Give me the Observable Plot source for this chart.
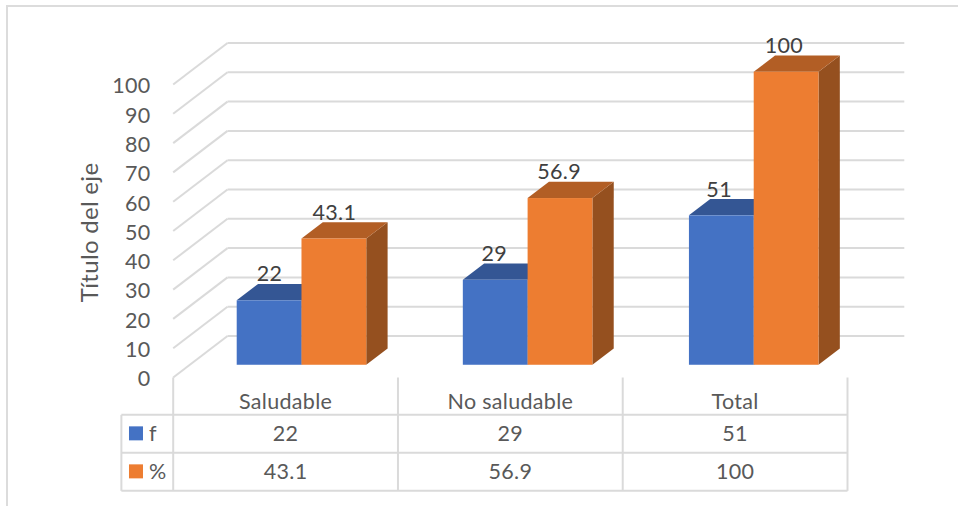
<!DOCTYPE html>
<html lang="es">
<head>
<meta charset="utf-8">
<title>Título del eje</title>
<script src="https://cdn.jsdelivr.net/npm/d3@7"></script>
<script src="https://cdn.jsdelivr.net/npm/@observablehq/plot@0.6"></script>
<style>
  html, body { margin: 0; padding: 0; background: #fff; overflow: hidden; }
  #chart { position: relative; width: 958px; height: 506px; }
  #frame { position: absolute; left: 6px; top: 5px; right: 0; bottom: 0;
           border-left: 2px solid #dcdcdc; border-top: 2px solid #dcdcdc; }
  #chart svg { position: absolute; left: 0; top: 0; }
</style>
</head>
<body>
<div id="chart"><div id="frame"></div></div>
<script>
// Chart values
const categories = ["Saludable", "No saludable", "Total"];
const frecuencia = [22, 29, 51];
const porcentaje = [43.1, 56.9, 100];
const valueTicks = [0, 10, 20, 30, 40, 50, 60, 70, 80, 90, 100];

// Faces of each series: front, top, right side
const series = [
  { key: "f", label: "f", values: frecuencia, front: "#4472C4", top: "#345694", side: "#2C4A80" },
  { key: "%", label: "%", values: porcentaje, front: "#ED7D31", top: "#B25E25", side: "#95501F" }
];

// Oblique projection: depth 0 is the front of the floor, depth 1 the back wall
const depthX = 0.2416;
const depthY = 14.16;
const px = (x, depth) => x + depth * depthX;
const py = (y, depth) => y + depth * depthY;
const barFront = 0.295, barBack = 0.688;
const groupStart = 0.2135, groupStep = 1.006, labelStep = 1, barWidth = 0.2882;
const wallRight = 3.2527 - depthX;

// Bars, with the x extent of each one on the category axis
const bars = series.flatMap((s, si) => s.values.map((v, i) => {
  const x0 = groupStart + i * groupStep + si * barWidth;
  const labelX = groupStart + i * labelStep + (si + 0.5) * barWidth;
  return { series: s, category: categories[i], value: v, x0, x1: x0 + barWidth, labelX };
}));

// A four-sided face given as two edges, one per row, for Plot.area
const quad = (id, a, b, c, d) => [
  { id, x1: a[0], y1: a[1], x2: b[0], y2: b[1] },
  { id, x1: d[0], y1: d[1], x2: c[0], y2: c[1] }
];
const facesOf = s => bars.filter(b => b.series === s);
const topFace = b => quad(b.category,
  [px(b.x0, barFront), py(b.value, barFront)], [px(b.x1, barFront), py(b.value, barFront)],
  [px(b.x1, barBack), py(b.value, barBack)], [px(b.x0, barBack), py(b.value, barBack)]);
const sideFace = b => quad(b.category,
  [px(b.x1, barFront), py(0, barFront)], [px(b.x1, barFront), py(b.value, barFront)],
  [px(b.x1, barBack), py(b.value, barBack)], [px(b.x1, barBack), py(0, barBack)]);

// Data table under the plot, measured in axis units
const tableTop = -12.75, rowH = 12.97;
const tableLeft = -0.2306;
const rowY = r => tableTop - rowH * r;
const rowMid = r => tableTop - rowH * (r + 0.5);
const headerY = -8.3;

const text = { fontSize: 21.5, fill: "#595959" };
const gridLine = { stroke: "#DADADA", strokeWidth: 2 };
const bar3d = s => [
  Plot.area(facesOf(s).flatMap(sideFace), { x1: "x1", y1: "y1", x2: "x2", y2: "y2", z: "id", fill: s.side }),
  Plot.area(facesOf(s).flatMap(topFace), { x1: "x1", y1: "y1", x2: "x2", y2: "y2", z: "id", fill: s.top }),
  Plot.rect(facesOf(s), {
    x1: b => px(b.x0, barFront), x2: b => px(b.x1, barFront),
    y1: () => py(0, barFront), y2: b => py(b.value, barFront),
    fill: s.front, inset: 0
  })
];

const chart = Plot.plot({
  width: 958, height: 506,
  marginTop: 0, marginRight: 0, marginBottom: 0, marginLeft: 0,
  style: { fontFamily: "Lato, sans-serif", background: "transparent", overflow: "visible", letterSpacing: "0.3px" },
  x: { domain: [0, 3], range: [172.7, 847], axis: null },
  y: { domain: [0, 100], range: [377, 84], axis: null },
  marks: [
    // Gridlines: along the side wall, then across the back wall
    Plot.link(valueTicks, { x1: 0, y1: d => d, x2: px(0, 1), y2: d => py(d, 1), ...gridLine }),
    Plot.link(valueTicks, {
      x1: px(0, 1), y1: d => py(d, 1), x2: px(wallRight, 1), y2: d => py(d, 1), ...gridLine
    }),

    // Value axis
    Plot.text(valueTicks, { x: -0.101, y: d => d, text: d => String(d), textAnchor: "end", dy: 2, ...text }),
    Plot.text(["Título del eje"], {
      x: -0.368, y: 49.5, text: d => d, rotate: -90, fontSize: 24, fill: "#595959"
    }),

    // Bars, blue first so the orange ones sit in front of their side faces
    ...series.flatMap(bar3d),

    // Value labels on top of the bars
    Plot.text(bars, {
      x: b => px(b.labelX, barFront), y: b => py(b.value, barBack),
      text: b => String(b.value), lineAnchor: "bottom", dy: -3,
      fontSize: 21.5, fill: "#404040"
    }),

    // Table borders
    Plot.link([0, 1, 2, 3], { x1: d => d, x2: d => d, y1: 0, y2: rowY(2), ...gridLine }),
    Plot.link([0, 1, 2], { x1: tableLeft, x2: 3, y1: r => rowY(r), y2: r => rowY(r), ...gridLine }),
    Plot.link([0], { x1: tableLeft, x2: tableLeft, y1: rowY(0), y2: rowY(2), ...gridLine }),

    // Table header and values
    Plot.text(categories, { x: (d, i) => i + 0.5, y: headerY, text: d => d, ...text }),
    ...series.map((s, r) => Plot.text(s.values, {
      x: (d, i) => i + 0.5, y: rowMid(r), text: d => String(d), ...text
    })),

    // Legend keys in the first table column
    Plot.rect(series, {
      x1: -0.1945, x2: -0.1322,
      y1: (s, r) => rowMid(r) - 2.39, y2: (s, r) => rowMid(r) + 2.39,
      fill: s => s.front, inset: 0
    }),
    Plot.text(series, {
      x: -0.108, y: (s, r) => rowMid(r), text: s => s.label, textAnchor: "start", ...text
    })
  ]
});

document.getElementById("chart").appendChild(chart);
</script>
</body>
</html>
